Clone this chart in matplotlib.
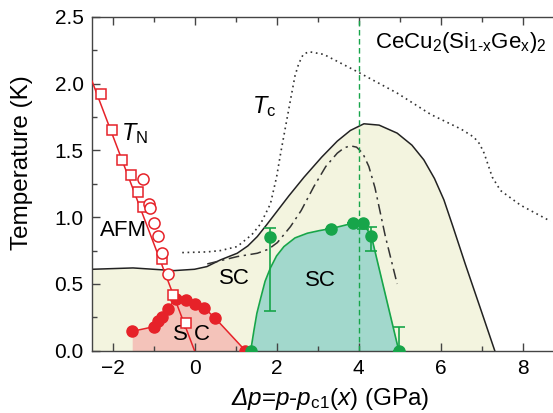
import numpy as np
import matplotlib
matplotlib.use('Agg')
import matplotlib.pyplot as plt

plt.rcParams['font.family'] = ['Liberation Sans', 'DejaVu Sans']
plt.rcParams['mathtext.fontset'] = 'custom'
plt.rcParams['mathtext.rm'] = 'Liberation Sans'
plt.rcParams['mathtext.it'] = 'Liberation Sans:italic'
plt.rcParams['mathtext.sf'] = 'Liberation Sans:italic'

# T_N from AFM (squares / circles) and linear fit
tn_sq_x = [-2.29, -2.02, -1.76, -1.54, -1.37, -1.26, -0.80, -0.53, -0.22]
tn_sq_y = [1.92, 1.65, 1.43, 1.32, 1.19, 1.08, 0.69, 0.42, 0.21]
tn_ci_x = [-1.25, -1.10, -1.09, -0.99, -0.89, -0.80, -0.64]
tn_ci_y = [1.29, 1.10, 1.07, 0.955, 0.86, 0.735, 0.575]
tn_fit_x = [-2.5, 0.0]
tn_fit_y = [2.02, 0.0]

# SC dome inside AFM (red filled circles)
sc1_x = [-1.52, -0.99, -0.89, -0.80, -0.65, -0.46, -0.22, 0.02, 0.23, 0.50, 1.24]
sc1_y = [0.145, 0.18, 0.22, 0.25, 0.315, 0.39, 0.378, 0.35, 0.322, 0.245, 0.0]

# SC dome 2 (green)
sc2_x = [1.37, 1.85, 3.33, 3.86, 4.10, 4.31, 4.98]
sc2_y = [0.0, 0.85, 0.91, 0.955, 0.96, 0.86, 0.0]
sc2_err_lo = [0.0, 0.55, 0.0, 0.0, 0.05, 0.11, 0.0]
sc2_err_hi = [0.0, 0.07, 0.0, 0.0, 0.0, 0.07, 0.18]
sc2_line_x = [1.37, 1.45, 1.52, 1.61, 1.72, 1.85, 2.0, 2.18, 2.45, 2.75, 3.05, 3.33,
              3.6, 3.86, 4.10, 4.31, 4.98]
sc2_line_y = [0.0, 0.155, 0.28, 0.39, 0.52, 0.62, 0.71, 0.78, 0.845, 0.88, 0.9, 0.915,
              0.935, 0.955, 0.96, 0.86, 0.0]

# large SC envelope (solid black)
env_x = [-2.5, -2.0, -1.5, -1.0, -0.5, 0.0, 0.3, 0.63, 1.04, 1.3, 1.53, 1.75, 2.0,
         2.3, 2.67, 3.1, 3.48, 3.8, 4.13, 4.5, 4.94, 5.3, 5.59, 5.85, 6.08, 6.3,
         6.6, 7.0, 7.32]
env_y = [0.61, 0.615, 0.62, 0.61, 0.60, 0.61, 0.63, 0.68, 0.73, 0.785, 0.855, 0.94, 1.04,
         1.16, 1.30, 1.45, 1.57, 1.65, 1.70, 1.69, 1.63, 1.54, 1.43, 1.29, 1.13, 0.93,
         0.65, 0.29, 0.0]

# T_c (dotted)
tc_x = [-0.3, 0.3, 0.63, 1.04, 1.4, 1.61, 1.85, 2.0, 2.10, 2.22, 2.34, 2.45, 2.54,
        2.65, 2.79, 3.15, 3.97, 4.94, 5.76, 6.5, 6.81, 6.95, 7.06, 7.16, 7.26, 7.46,
        7.95, 8.68]
tc_y = [0.735, 0.74, 0.75, 0.78, 0.87, 0.95, 1.10, 1.30, 1.48, 1.68, 1.88, 2.06, 2.15,
        2.22, 2.24, 2.22, 2.09, 1.93, 1.77, 1.66, 1.60, 1.55, 1.48, 1.39, 1.30, 1.20,
        1.09, 0.97]

# dash-dot curve
dd_x = [0.31, 1.04, 1.53, 1.8, 2.02, 2.34, 2.6, 2.91, 3.2, 3.48, 3.65, 3.8, 3.95, 4.1,
        4.25, 4.4, 4.65, 4.94]
dd_y = [0.65, 0.705, 0.73, 0.76, 0.81, 0.93, 1.05, 1.23, 1.38, 1.48, 1.52, 1.535, 1.525,
        1.48, 1.38, 1.22, 0.86, 0.5]

red = '#e62229'
green = '#17a54a'

fig = plt.figure(figsize=(5.53, 4.13), dpi=100)
ax = fig.add_axes([92/553, 62.3/413, 461/553, 333.7/413])

ax.fill_between(env_x, env_y, 0, color='#f3f4df', lw=0, zorder=1)
ax.fill_between(sc1_x, sc1_y, 0, color='#f4c3ba', lw=0, zorder=1.5)
ax.fill_between(sc2_line_x, sc2_line_y, 0, color='#a2d8cc', lw=0, zorder=1.5)

ax.plot(env_x, env_y, color='#222222', lw=1.1, zorder=2)
ax.plot(tc_x, tc_y, color='#333333', lw=1.2, ls=(0, (1, 2.2)), zorder=2)
ax.plot(dd_x, dd_y, color='#333333', lw=1.1, ls=(0, (7, 3, 1.5, 3)), zorder=2)

ax.axvline(4.0, color=green, lw=1.0, ls=(0, (4, 2.5)), zorder=2.5)

ax.plot(sc2_line_x, sc2_line_y, color=green, lw=1.2, zorder=3)
ax.errorbar(sc2_x, sc2_y, yerr=[sc2_err_lo, sc2_err_hi], fmt='o', color=green,
            ms=8, capsize=4, elinewidth=1.2, capthick=1.2, zorder=4)

ax.plot(sc1_x, sc1_y, '-o', color=red, ms=8, lw=1.1, zorder=4)
ax.plot(tn_fit_x, tn_fit_y, color=red, lw=1.1, zorder=5)
ax.plot(tn_sq_x, tn_sq_y, 's', mfc='white', mec=red, ms=7, mew=1.1, zorder=6)
ax.plot(tn_ci_x, tn_ci_y, 'o', mfc='white', mec=red, ms=8, mew=1.1, zorder=6)

ax.set_xlim(-2.5, 8.74)
ax.set_ylim(0, 2.5)
ax.set_xticks([-2, 0, 2, 4, 6, 8])
ax.set_xticks(np.arange(-2, 9, 1), minor=True)
ax.set_yticks([0, 0.5, 1.0, 1.5, 2.0, 2.5])
ax.set_yticks(np.arange(0, 2.51, 0.25), minor=True)
ax.yaxis.set_major_formatter(matplotlib.ticker.FormatStrFormatter('%.1f'))
ax.tick_params(which='both', direction='in', top=True, right=False,
               labelsize=15, color='#444444', width=1.0, pad=6)
ax.tick_params(which='major', length=6)
ax.tick_params(which='minor', length=3.5)
for s in ['left', 'bottom', 'top']:
    ax.spines[s].set_color('#444444')
    ax.spines[s].set_linewidth(1.0)
ax.spines['right'].set_visible(False)

ax.set_ylabel('Temperature (K)', fontsize=17.5)
ax.yaxis.set_label_coords(-0.128, 0.565)
ax.set_xlabel(r'$\mathsf{\Delta p}$=$\mathsf{p}$-$\mathsf{p}_\mathrm{c1}$($\mathsf{x}$) (GPa)', fontsize=17.5)
ax.xaxis.set_label_coords(0.516, -0.105)

ax.text(-1.45, 1.63, r'$\mathsf{T}_\mathrm{N}$', fontsize=17, ha='center', va='center', zorder=7)
ax.text(1.69, 1.83, r'$\mathsf{T}_\mathrm{c}$', fontsize=17, ha='center', va='center', zorder=7)
ax.text(8.58, 2.31, r'CeCu$_2$(Si$_{1\text{-}\mathrm{x}}$Ge$_\mathrm{x}$)$_2$', fontsize=16,
        ha='right', va='center', zorder=7)
ax.text(-1.73, 0.90, 'AFM', fontsize=16, ha='center', va='center', zorder=7)
ax.text(0.96, 0.54, 'SC', fontsize=16, ha='center', va='center', zorder=7)
ax.text(3.07, 0.525, 'SC', fontsize=16, ha='center', va='center', zorder=7)
ax.text(-0.08, 0.12, 'S C', fontsize=16, ha='center', va='center', zorder=3.5)

fig.savefig('out.png', dpi=100)
